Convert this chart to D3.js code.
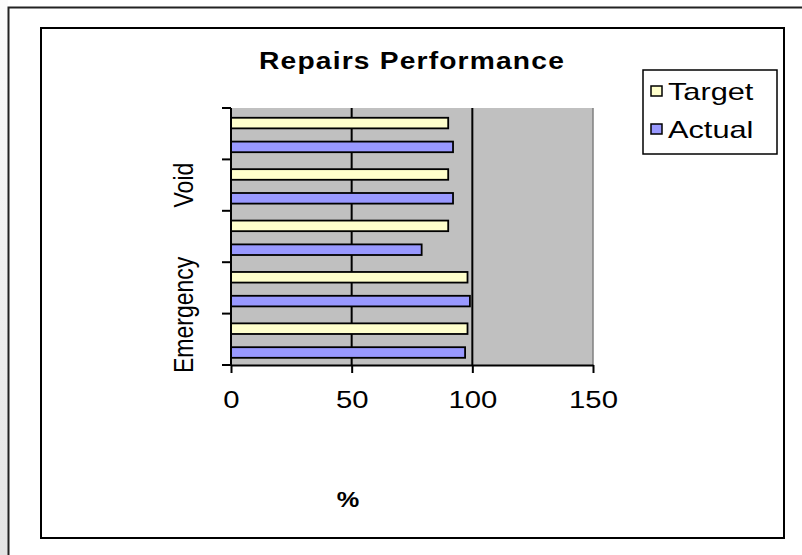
<!DOCTYPE html>
<html>
<head>
<meta charset="utf-8">
<script src="https://cdn.jsdelivr.net/npm/d3@7"></script>
<style>
  html, body { margin: 0; padding: 0; background: #ffffff; }
  svg { display: block; font-family: Arial, "Liberation Sans", sans-serif; }
</style>
</head>
<body>
<svg id="chart" width="802" height="555"></svg>
<script>
// ---- data (categories listed bottom to top) ----
const categories = ["c1", "c2", "c3", "c4", "c5"];
const categoryLabels = ["Emergency", "", "", "Void", ""];
const seriesNames = ["Target", "Actual"];
const targetValues = [98, 98, 90, 90, 90];
const actualValues = [97, 99, 79, 92, 92];
const xTicks = [0, 50, 100, 150];
const titleText = "Repairs Performance";
const xAxisTitle = "%";

const colors = { Target: "#ffffcc", Actual: "#9999ff" };
const valuesBySeries = { Target: targetValues, Actual: actualValues };
const HSTRETCH = 1.22;

const svg = d3.select("#chart");

// left page strip gradient
const defs = svg.append("defs");
const grad = defs.append("linearGradient").attr("id", "strip")
  .attr("x1", 0).attr("y1", 0).attr("x2", 0).attr("y2", 1);
grad.append("stop").attr("offset", "0%").attr("stop-color", "#fbfbfb");
grad.append("stop").attr("offset", "100%").attr("stop-color", "#e4e4e4");
svg.append("rect").attr("x", 0).attr("y", 0).attr("width", 8).attr("height", 555).attr("fill", "url(#strip)");

// outer frame (extends beyond window)
svg.append("path").attr("d", "M8.5,560 L8.5,7.5 L810,7.5")
  .attr("fill", "none").attr("stroke", "#222").attr("stroke-width", 2);

// inner chart frame
svg.append("rect").attr("x", 41).attr("y", 28).attr("width", 743).attr("height", 510)
  .attr("fill", "#fff").attr("stroke", "#000").attr("stroke-width", 2);

const plot = { left: 231, right: 593, top: 108, bottom: 365 };

const x = d3.scaleLinear().domain([0, 150]).range([plot.left, plot.right]);
const y = d3.scaleBand().domain(categories).range([plot.bottom, plot.top]);
const bw = y.bandwidth();
const inner = d3.scaleBand().domain(seriesNames)
  .range([0.19 * bw, 0.86 * bw]).paddingInner(0.555);

// plot area
svg.append("rect").attr("x", plot.left).attr("y", plot.top)
  .attr("width", plot.right - plot.left).attr("height", plot.bottom - plot.top)
  .attr("fill", "#c0c0c0");
svg.append("line").attr("x1", plot.right).attr("x2", plot.right)
  .attr("y1", plot.top).attr("y2", plot.bottom).attr("stroke", "#808080").attr("stroke-width", 1.5);

// gridlines
svg.append("g").selectAll("line").data(xTicks.filter(d => d > 0 && d < 150)).join("line")
  .attr("x1", d => x(d)).attr("x2", d => x(d))
  .attr("y1", plot.top).attr("y2", plot.bottom)
  .attr("stroke", "#000").attr("stroke-width", 2);

// bars
const rows = [];
categories.forEach((c, i) => {
  seriesNames.forEach(s => rows.push({ cat: c, series: s, value: valuesBySeries[s][i] }));
});
svg.append("g").selectAll("rect").data(rows).join("rect")
  .attr("x", x(0))
  .attr("y", d => y(d.cat) + inner(d.series))
  .attr("width", d => x(d.value) - x(0))
  .attr("height", inner.bandwidth())
  .attr("fill", d => colors[d.series])
  .attr("stroke", "#000").attr("stroke-width", 1.8);

// y axis line and ticks at band boundaries
const yAxis = svg.append("g");
yAxis.append("line").attr("x1", plot.left).attr("x2", plot.left)
  .attr("y1", plot.top).attr("y2", plot.bottom + 1).attr("stroke", "#000").attr("stroke-width", 2);
const boundaries = categories.map(c => y(c)).concat([y(categories[0]) + bw]);
yAxis.selectAll("line.tick").data(boundaries).join("line").attr("class", "tick")
  .attr("x1", plot.left - 9).attr("x2", plot.left)
  .attr("y1", d => d).attr("y2", d => d)
  .attr("stroke", "#000").attr("stroke-width", 2);

// category labels (rotated)
const labelData = categories.map((c, i) => ({ cat: c, label: categoryLabels[i] })).filter(d => d.label);
yAxis.selectAll("text.cl").data(labelData).join("text").attr("class", "cl")
  .attr("font-size", 23)
  .attr("fill", "#000")
  .attr("text-anchor", "middle")
  .text(d => d.label)
  .each(function (d) {
    const len = this.getComputedTextLength();
    let cy = y(d.cat) + bw / 2;
    const maxBottom = plot.bottom + 8;
    if (cy + len / 2 > maxBottom) cy = maxBottom - len / 2;
    d3.select(this).attr("transform", `translate(${193},${cy}) scale(${HSTRETCH},1) rotate(-90)`);
  });

// x axis
const xAxisG = svg.append("g").attr("transform", `translate(0,${plot.bottom})`)
  .call(d3.axisBottom(x).tickValues(xTicks).tickSize(8).tickSizeOuter(0).tickFormat(d3.format("d")));
xAxisG.select(".domain").attr("stroke", "#000").attr("stroke-width", 2);
xAxisG.selectAll(".tick line").attr("stroke", "#000").attr("stroke-width", 2);
xAxisG.selectAll(".tick text")
  .attr("y", 43).attr("dy", null)
  .attr("font-size", 24).attr("font-family", "Arial, 'Liberation Sans', sans-serif")
  .attr("fill", "#000")
  .each(function () {
    const len = this.getComputedTextLength();
    d3.select(this).attr("textLength", len * HSTRETCH).attr("lengthAdjust", "spacingAndGlyphs");
  });

// title
svg.append("text").attr("x", 412).attr("y", 69)
  .attr("text-anchor", "middle").attr("font-size", 24).attr("font-weight", "bold")
  .attr("textLength", 306).attr("lengthAdjust", "spacingAndGlyphs")
  .style("letter-spacing", "1px")
  .text(titleText);

// x axis title
svg.append("text").attr("x", 348).attr("y", 507)
  .attr("text-anchor", "middle").attr("font-size", 22).attr("font-weight", "bold")
  .text(xAxisTitle)
  .each(function () {
    const len = this.getComputedTextLength();
    d3.select(this).attr("textLength", len * 1.15).attr("lengthAdjust", "spacingAndGlyphs");
  });

// legend
const legend = svg.append("g");
legend.append("rect").attr("x", 643).attr("y", 70).attr("width", 134).attr("height", 84)
  .attr("fill", "#fff").attr("stroke", "#000").attr("stroke-width", 1.5);
const legendItem = legend.selectAll("g.item").data(seriesNames).join("g").attr("class", "item")
  .attr("transform", (d, i) => `translate(651,${91 + i * 38})`);
legendItem.append("rect").attr("x", 0).attr("y", -5).attr("width", 11).attr("height", 10)
  .attr("fill", d => colors[d]).attr("stroke", "#000").attr("stroke-width", 1.5);
legendItem.append("text").attr("x", 17).attr("y", 9)
  .attr("font-size", 24).attr("fill", "#000")
  .text(d => d)
  .each(function () {
    const len = this.getComputedTextLength();
    d3.select(this).attr("textLength", len * 1.28).attr("lengthAdjust", "spacingAndGlyphs");
  });
</script>
</body>
</html>
